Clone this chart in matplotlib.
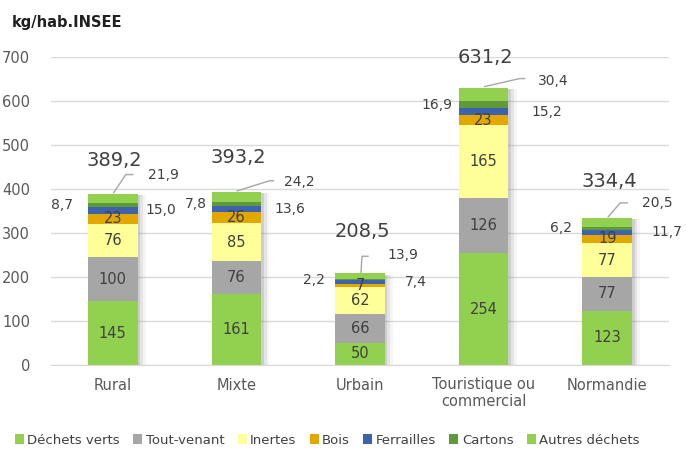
import matplotlib
matplotlib.use("Agg")
import matplotlib.pyplot as plt
import matplotlib.patheffects as pe
from matplotlib.patches import Patch
import numpy as np

plt.rcParams['font.family'] = ['DejaVu Sans']

# ---- data ----
categories = ["Rural", "Mixte", "Urbain", "Touristique ou\ncommercial", "Normandie"]
dechets_verts = [145, 161, 50, 254, 123]
tout_venant = [100, 76, 66, 126, 77]
inertes = [76, 85, 62, 165, 77]
bois = [23, 26, 7, 23, 19]
ferrailles = [15.0, 13.6, 7.4, 15.2, 11.7]
cartons = [8.7, 7.8, 2.2, 16.9, 6.2]
autres = [21.9, 24.2, 13.9, 30.4, 20.5]
totals = [389.2, 393.2, 208.5, 631.2, 334.4]
series_names = ["Déchets verts", "Tout-venant", "Inertes", "Bois", "Ferrailles", "Cartons", "Autres déchets"]
yticks = [0, 100, 200, 300, 400, 500, 600, 700]

# ---- style / layout ----
colors = ["#92D050", "#A6A6A6", "#FFFF99", "#E3A800", "#3D62AE", "#5E9A3A", "#92D050"]
txt = "#404040"
tick_col = "#595959"
W = 0.4
total_dy = [28, 29, 36, 25, 31]
top_dx = [35, 48, 27, 54, 35]
top_dy = [19, 10, 18, 7, 15]
kink = [(13, 19), (33, 11), (2, 17), (36, 9), (13, 15)]
end_dx = [20, 37, 8, 41, 20]
left_gap = [15, 5, 10, 6, 10]
right_gap = [8, 13, 20, 23, 20]

fig = plt.figure(figsize=(6.86, 4.5), dpi=100)
ax = fig.add_axes([51/686, 85/450, 618/686, 308/450])
x = np.arange(len(categories))
ax.set_xlim(-0.5, len(categories) - 0.5)
ax.set_ylim(0, 700)

# soft shadow
for (ox, a) in [(2, 0.22), (4, 0.14), (6, 0.07)]:
    ax.bar(x, totals, W, color="none", zorder=1,
           path_effects=[pe.SimplePatchShadow(offset=(ox, -1), shadow_rgbFace="#7f7f7f", alpha=a)])

series = [dechets_verts, tout_venant, inertes, bois, ferrailles, cartons, autres]
bottom = np.zeros(len(categories))
for vals, col, name in zip(series, colors, series_names):
    ax.bar(x, vals, W, bottom=bottom, color=col, zorder=2, linewidth=0)
    bottom = bottom + np.array(vals)

# inside labels for first four series
bottom = np.zeros(len(categories))
for vals in series[:4]:
    for i, v in enumerate(vals):
        ax.text(x[i], bottom[i] + v / 2, f"{v:g}", ha="center", va="center",
                fontsize=10.5, color=txt, zorder=4)
    bottom = bottom + np.array(vals)

def fmt(v):
    return f"{v:.1f}".replace(".", ",")

base4 = np.array(dechets_verts) + np.array(tout_venant) + np.array(inertes) + np.array(bois)
stack_top = base4 + np.array(ferrailles) + np.array(cartons) + np.array(autres)

def off(xd, yd, dx, dy):
    bx, by = ax.transData.transform((xd, yd))
    return ax.transData.inverted().transform((bx + dx, by + dy))

for i in range(len(categories)):
    # ferrailles (right)
    ym = base4[i] + ferrailles[i] / 2
    ax.annotate(fmt(ferrailles[i]), xy=(x[i] + W / 2, ym), xytext=(right_gap[i], 0),
                textcoords="offset pixels", ha="left", va="center", fontsize=10, color=txt)
    # cartons (left)
    ym = base4[i] + ferrailles[i] + cartons[i] / 2
    ax.annotate(fmt(cartons[i]), xy=(x[i] - W / 2, ym), xytext=(-left_gap[i], 0),
                textcoords="offset pixels", ha="right", va="center", fontsize=10, color=txt)
    # autres (leader)
    top = stack_top[i]
    p0 = off(x[i], top, 1, 1)
    p1 = off(x[i], top, kink[i][0], kink[i][1])
    p2 = off(x[i], top, end_dx[i], kink[i][1])
    ax.plot([p0[0], p1[0], p2[0]], [p0[1], p1[1], p2[1]], color="#a6a6a6", lw=1,
            clip_on=False, zorder=3)
    ax.annotate(fmt(autres[i]), xy=(x[i], top), xytext=(top_dx[i], top_dy[i]),
                textcoords="offset pixels", ha="left", va="center", fontsize=10, color=txt)
    # total
    ax.annotate(fmt(totals[i]), xy=(x[i], top), xytext=(2, total_dy[i]),
                textcoords="offset pixels", ha="center", va="baseline", fontsize=14, color=txt)

ax.set_yticks(yticks)
ax.set_yticklabels([str(t) for t in yticks])
ax.set_xticks(x)
ax.set_xticklabels(categories)
ax.tick_params(axis="both", length=0, colors=tick_col, labelsize=10.5)
ax.tick_params(axis="y", pad=15)
ax.tick_params(axis="x", pad=9)
for lab in ax.get_xticklabels():
    lab.set_linespacing(1.1)
ax.grid(axis="y", color="#d9d9d9", lw=1, zorder=0)
ax.set_axisbelow(True)
for s in ["top", "right", "left"]:
    ax.spines[s].set_visible(False)
ax.spines["bottom"].set_color("#d9d9d9")

fig.text(12/686, 1 - 22/450, "kg/hab.INSEE", fontsize=10.5, fontweight="bold",
         color="#202020", ha="left", va="center")

handles = [Patch(facecolor=c, edgecolor="none") for c in colors]
fig.legend(handles, series_names, loc="center", bbox_to_anchor=(0.477, 1 - 440/450),
           ncol=7, frameon=False, fontsize=9.5, handlelength=0.7, handleheight=0.7,
           handletextpad=0.25, columnspacing=1.0, labelcolor=txt)

fig.savefig("out.png", dpi=100)
